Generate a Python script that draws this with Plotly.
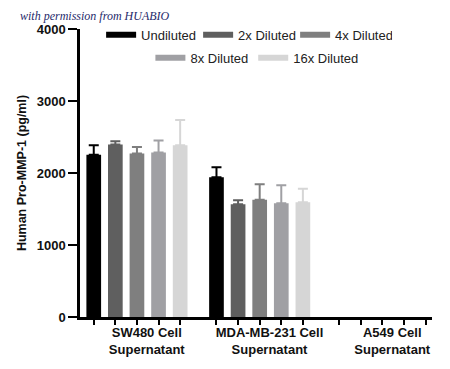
import plotly.graph_objects as go

categories = ["SW480 Cell<br>Supernatant", "MDA-MB-231 Cell<br>Supernatant", "A549 Cell<br>Supernatant"]
series_names = ["Undiluted", "2x Diluted", "4x Diluted", "8x Diluted", "16x Diluted"]
means = [
    [2255, 1940, None],
    [2395, 1565, None],
    [2270, 1630, None],
    [2285, 1580, None],
    [2385, 1595, None],
]
err_top = [
    [2385, 2080, None],
    [2440, 1620, None],
    [2360, 1845, None],
    [2450, 1830, None],
    [2735, 1780, None],
]
colors = ["#000000", "#5f5f5f", "#7f7f7f", "#a0a0a4", "#d6d6d6"]

bargap = 0.12
n = len(series_names)
group_x = list(range(len(categories)))
slot = (1 - bargap) / n
bar_centers = [g - (1 - bargap) / 2 + slot * (i + 0.5) for g in group_x for i in range(n)]
label_pos = [g + 0.08 for g in group_x]

fig = go.Figure()
for i, name in enumerate(series_names):
    plus = [(t - m) if (t is not None and m is not None) else None for t, m in zip(err_top[i], means[i])]
    fig.add_trace(go.Bar(
        x=group_x, y=means[i], name=name, marker_color=colors[i],
        marker_line_width=0, showlegend=False,
        error_y=dict(type="data", symmetric=False, array=plus,
                     arrayminus=[0 if p is not None else None for p in plus],
                     color=colors[i], thickness=2, width=5),
    ))
# legend entries
for i, name in enumerate(series_names):
    fig.add_trace(go.Scatter(
        x=[None], y=[None], mode="lines", name=name,
        line=dict(color=colors[i], width=6),
        legend="legend" if i < 3 else "legend2",
    ))

font_family = "Liberation Sans, Arial, sans-serif"
fig.update_layout(
    width=442, height=361,
    margin=dict(l=67, r=18, t=18, b=50),
    paper_bgcolor="white", plot_bgcolor="white",
    barmode="group", bargap=bargap, bargroupgap=0.32,
    font=dict(family=font_family, color="#000000"),
    xaxis=dict(
        range=[-0.464, 2.404], tickmode="array", tickvals=label_pos, ticktext=categories,
        ticks="", showgrid=False, zeroline=False,
        showline=True, linecolor="#000000", linewidth=2.5,
        tickfont=dict(size=13, weight="bold", color="#111111"),
        ticklabelstandoff=2,
        minor=dict(tickmode="array", tickvals=bar_centers, ticks="outside",
                   ticklen=5, tickwidth=2, tickcolor="#000000", showgrid=False),
    ),
    yaxis=dict(
        range=[0, 4000], tickmode="linear", tick0=0, dtick=1000,
        ticks="outside", ticklen=9, tickwidth=2, tickcolor="#000000",
        showline=True, linecolor="#000000", linewidth=2.5,
        showgrid=False, zeroline=False,
        tickfont=dict(size=13, weight="bold", color="#111111"),
        title=dict(text="Human Pro-MMP-1 (pg/ml)", standoff=8,
                   font=dict(size=12.5, weight="bold", color="#111111")),
    ),
    legend=dict(orientation="h", x=0.06, y=0.98, xanchor="left", yanchor="middle",
                entrywidth=52, entrywidthmode="pixels",
                font=dict(size=13, color="#222222"), bgcolor="rgba(0,0,0,0)",
                itemclick=False),
    legend2=dict(orientation="h", x=0.2, y=0.90, xanchor="left", yanchor="middle",
                 font=dict(size=13, color="#222222"), bgcolor="rgba(0,0,0,0)",
                 itemclick=False),
    annotations=[dict(
        text="<i>with permission from HUABIO</i>", xref="paper", yref="paper",
        x=-0.176, y=1.046, xanchor="left", yanchor="middle", showarrow=False,
        font=dict(family="Liberation Serif, serif", size=12, color="#1f2a6b"),
    )],
)

fig.write_html("out.html")
